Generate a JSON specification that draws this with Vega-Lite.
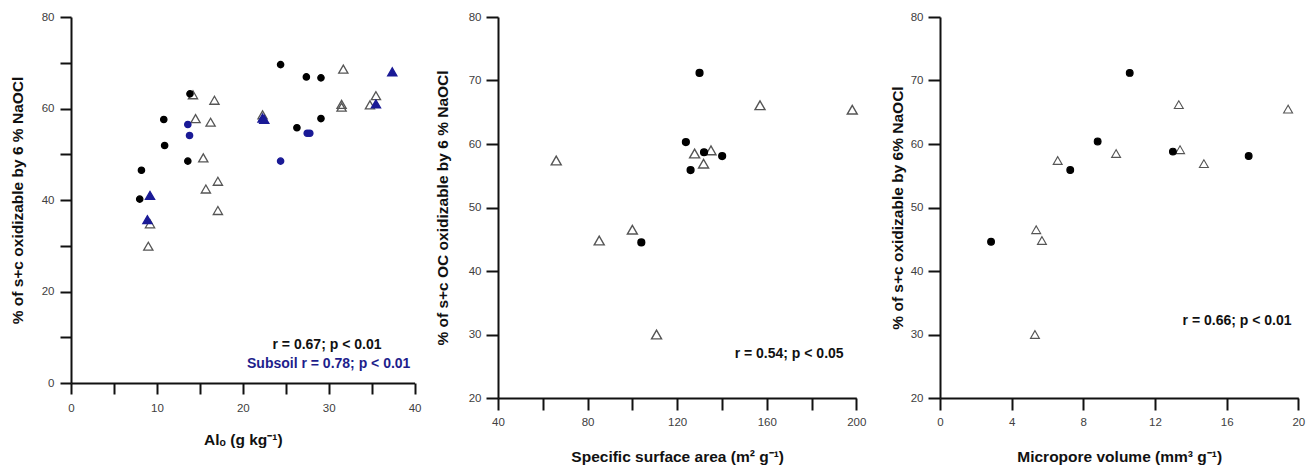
{
  "$schema": "https://vega.github.io/schema/vega-lite/v6.json",
  "background": "white",
  "padding": {"left": 10, "top": 11, "right": 4, "bottom": 0},
  "bounds": "flush",
  "spacing": 83,
  "resolve": {"scale": {"x": "independent", "y": "independent"}},
  "config": {
    "view": {"stroke": null},
    "font": "Liberation Sans",
    "axis": {
      "grid": false,
      "domainColor": "#111",
      "domainWidth": 2,
      "tickColor": "#111",
      "tickWidth": 2,
      "labelColor": "#404040",
      "labelFont": "Liberation Sans",
      "labelFontSize": 11.5,
      "labelFlush": false,
      "labelOverlap": false,
      "titleFont": "Liberation Sans",
      "titleFontSize": 15.5,
      "titleFontWeight": "bold",
      "titleColor": "#111"
    }
  },
  "hconcat": [
    {
      "width": 343.6,
      "height": 366,
      "layer": [
        {
          "data": {"values": [
            {"x": 14.2, "y": 63.0, "group": "B top"},
            {"x": 14.5, "y": 57.8, "group": "B top"},
            {"x": 16.7, "y": 61.8, "group": "B top"},
            {"x": 16.25, "y": 57.0, "group": "B top"},
            {"x": 15.4, "y": 49.2, "group": "B top"},
            {"x": 15.7, "y": 42.4, "group": "B top"},
            {"x": 17.1, "y": 44.1, "group": "B top"},
            {"x": 17.1, "y": 37.7, "group": "B top"},
            {"x": 9.2, "y": 34.8, "group": "B top"},
            {"x": 9.0, "y": 29.9, "group": "B top"},
            {"x": 22.3, "y": 58.6, "group": "B top"},
            {"x": 31.7, "y": 68.6, "group": "B top"},
            {"x": 31.5, "y": 60.3, "group": "B top"},
            {"x": 31.5, "y": 60.9, "group": "B top"},
            {"x": 34.8, "y": 60.8, "group": "B top"},
            {"x": 35.5, "y": 62.8, "group": "B top"},
            {"x": 8.2, "y": 46.5, "group": "A top"},
            {"x": 8.0, "y": 40.2, "group": "A top"},
            {"x": 10.8, "y": 57.6, "group": "A top"},
            {"x": 10.9, "y": 51.9, "group": "A top"},
            {"x": 13.85, "y": 63.2, "group": "A top"},
            {"x": 13.6, "y": 48.5, "group": "A top"},
            {"x": 24.4, "y": 69.6, "group": "A top"},
            {"x": 27.4, "y": 66.9, "group": "A top"},
            {"x": 29.1, "y": 66.7, "group": "A top"},
            {"x": 26.3, "y": 55.8, "group": "A top"},
            {"x": 29.1, "y": 57.8, "group": "A top"},
            {"x": 13.6, "y": 56.5, "group": "A sub"},
            {"x": 13.8, "y": 54.1, "group": "A sub"},
            {"x": 24.4, "y": 48.5, "group": "A sub"},
            {"x": 27.5, "y": 54.6, "group": "A sub"},
            {"x": 27.8, "y": 54.6, "group": "A sub"},
            {"x": 9.2, "y": 41.0, "group": "B sub"},
            {"x": 8.9, "y": 35.7, "group": "B sub"},
            {"x": 22.3, "y": 57.9, "group": "B sub"},
            {"x": 22.5, "y": 57.6, "group": "B sub"},
            {"x": 37.4, "y": 68.0, "group": "B sub"},
            {"x": 35.5, "y": 61.0, "group": "B sub"}
          ]},
          "mark": {"type": "point", "filled": true, "strokeWidth": 1.3, "opacity": 1},
          "encoding": {
            "x": {
              "field": "x", "type": "quantitative",
              "scale": {"domain": [0, 40], "nice": false, "zero": false},
              "axis": {
                "title": "Alₒ (g kg⁻¹)",
                "values": [0, 5, 10, 15, 20, 25, 30, 35, 40],
                "labelExpr": "datum.value % 10 === 0 ? datum.label : ''",
                "tickSize": 11,
                "encode": {"ticks": {"update": {"y2": {"signal": "datum.value % 10 === 0 ? 11 : 5"}}}},
                "labelPadding": 8,
                "titlePadding": 19
              }
            },
            "y": {
              "field": "y", "type": "quantitative",
              "scale": {"domain": [0, 80], "nice": false, "zero": false},
              "axis": {
                "title": "% of s+c oxidizable by 6 % NaOCl",
                "values": [0, 10, 20, 30, 40, 50, 60, 70, 80],
                "labelExpr": "datum.value % 20 === 0 ? datum.label : ''",
                "tickSize": 11,
                "encode": {"ticks": {"update": {"x2": {"signal": "datum.value % 20 === 0 ? -11 : -6"}}}},
                "labelPadding": 6,
                "titlePadding": 16
              }
            },
            "shape": {"field": "group", "type": "nominal", "legend": null,
              "scale": {"domain": ["A top", "A sub", "B top", "B sub"], "range": ["circle", "circle", "triangle-up", "triangle-up"]}},
            "fill": {"field": "group", "type": "nominal", "legend": null,
              "scale": {"domain": ["A top", "A sub", "B top", "B sub"], "range": ["#000000", "#1a1a96", "transparent", "#1a1a96"]}},
            "stroke": {"field": "group", "type": "nominal", "legend": null,
              "scale": {"domain": ["A top", "A sub", "B top", "B sub"], "range": ["#000000", "#1a1a96", "#555555", "#1a1a96"]}},
            "size": {"condition": {"test": "datum.group === 'B top' || datum.group === 'B sub'", "value": 85}, "value": 40}
          }
        },
        {
          "data": {"values": [{"label": "r = 0.67; p < 0.01"}]},
          "mark": {"type": "text", "fontWeight": "bold", "fontSize": 14, "color": "#111", "font": "Liberation Sans"},
          "encoding": {
            "x": {"datum": 29.8, "type": "quantitative"},
            "y": {"datum": 8.4, "type": "quantitative"},
            "text": {"field": "label"}
          }
        },
        {
          "data": {"values": [{"label": "Subsoil r = 0.78; p < 0.01"}]},
          "mark": {"type": "text", "fontWeight": "bold", "fontSize": 14, "color": "#1e1e8c", "font": "Liberation Sans"},
          "encoding": {
            "x": {"datum": 30.0, "type": "quantitative"},
            "y": {"datum": 4.2, "type": "quantitative"},
            "text": {"field": "label"}
          }
        }
      ]
    },
    {
      "width": 358.3,
      "height": 381,
      "layer": [
        {
          "data": {"values": [
            {"x": 66.0, "y": 57.4, "group": "B top"},
            {"x": 157.0, "y": 66.1, "group": "B top"},
            {"x": 198.2, "y": 65.4, "group": "B top"},
            {"x": 127.8, "y": 58.5, "group": "B top"},
            {"x": 131.8, "y": 56.9, "group": "B top"},
            {"x": 135.1, "y": 59.0, "group": "B top"},
            {"x": 85.2, "y": 44.8, "group": "B top"},
            {"x": 100.0, "y": 46.5, "group": "B top"},
            {"x": 110.8, "y": 30.0, "group": "B top"},
            {"x": 130.0, "y": 71.2, "group": "A top"},
            {"x": 123.9, "y": 60.3, "group": "A top"},
            {"x": 126.0, "y": 55.9, "group": "A top"},
            {"x": 132.0, "y": 58.7, "group": "A top"},
            {"x": 140.1, "y": 58.1, "group": "A top"},
            {"x": 104.0, "y": 44.5, "group": "A top"}
          ]},
          "mark": {"type": "point", "filled": true, "strokeWidth": 1.4, "opacity": 1},
          "encoding": {
            "x": {
              "field": "x", "type": "quantitative",
              "scale": {"domain": [40, 200], "nice": false, "zero": false},
              "axis": {
                "title": "Specific surface area (m² g⁻¹)",
                "values": [40, 60, 80, 100, 120, 140, 160, 180, 200],
                "labelExpr": "datum.value % 40 === 0 ? datum.label : ''",
                "tickSize": 12,
                "encode": {"ticks": {"update": {"y2": {"signal": "datum.value % 40 === 0 ? 12 : 6"}}}},
                "labelPadding": 6,
                "titlePadding": 22
              }
            },
            "y": {
              "field": "y", "type": "quantitative",
              "scale": {"domain": [20, 80], "nice": false, "zero": false},
              "axis": {
                "title": "% of s+c OC oxidizable by 6 % NaOCl",
                "values": [20, 25, 30, 35, 40, 45, 50, 55, 60, 65, 70, 75, 80],
                "labelExpr": "datum.value % 10 === 0 ? datum.label : ''",
                "tickSize": 12,
                "encode": {"ticks": {"update": {"x2": {"signal": "datum.value % 10 === 0 ? -12 : -6"}}}},
                "labelPadding": 5,
                "titlePadding": 18
              }
            },
            "shape": {"field": "group", "type": "nominal", "legend": null,
              "scale": {"domain": ["A top", "A sub", "B top", "B sub"], "range": ["circle", "circle", "triangle-up", "triangle-up"]}},
            "fill": {"field": "group", "type": "nominal", "legend": null,
              "scale": {"domain": ["A top", "A sub", "B top", "B sub"], "range": ["#000000", "#1a1a96", "transparent", "#1a1a96"]}},
            "stroke": {"field": "group", "type": "nominal", "legend": null,
              "scale": {"domain": ["A top", "A sub", "B top", "B sub"], "range": ["#000000", "#1a1a96", "#555555", "#1a1a96"]}},
            "size": {"condition": {"test": "datum.group === 'B top' || datum.group === 'B sub'", "value": 100}, "value": 46}
          }
        },
        {
          "data": {"values": [{"label": "r = 0.54; p < 0.05"}]},
          "mark": {"type": "text", "fontWeight": "bold", "fontSize": 14, "color": "#111", "font": "Liberation Sans"},
          "encoding": {
            "x": {"datum": 170, "type": "quantitative"},
            "y": {"datum": 27.0, "type": "quantitative"},
            "text": {"field": "label"}
          }
        }
      ]
    },
    {
      "width": 358.3,
      "height": 381,
      "layer": [
        {
          "data": {"values": [
            {"x": 6.57, "y": 57.4, "group": "B top"},
            {"x": 9.83, "y": 58.5, "group": "B top"},
            {"x": 13.33, "y": 66.2, "group": "B top"},
            {"x": 13.4, "y": 59.1, "group": "B top"},
            {"x": 14.73, "y": 56.9, "group": "B top"},
            {"x": 19.43, "y": 65.5, "group": "B top"},
            {"x": 5.37, "y": 46.5, "group": "B top"},
            {"x": 5.69, "y": 44.8, "group": "B top"},
            {"x": 5.3, "y": 30.0, "group": "B top"},
            {"x": 10.59, "y": 71.2, "group": "A top"},
            {"x": 8.8, "y": 60.4, "group": "A top"},
            {"x": 7.27, "y": 55.9, "group": "A top"},
            {"x": 13.0, "y": 58.8, "group": "A top"},
            {"x": 17.23, "y": 58.1, "group": "A top"},
            {"x": 2.85, "y": 44.6, "group": "A top"}
          ]},
          "mark": {"type": "point", "filled": true, "strokeWidth": 1.1, "opacity": 1},
          "encoding": {
            "x": {
              "field": "x", "type": "quantitative",
              "scale": {"domain": [0, 20], "nice": false, "zero": false},
              "axis": {
                "title": "Micropore volume (mm³ g⁻¹)",
                "values": [0, 2, 4, 6, 8, 10, 12, 14, 16, 18, 20],
                "labelExpr": "datum.value % 4 === 0 ? datum.label : ''",
                "tickSize": 12,
                "encode": {"ticks": {"update": {"y2": {"signal": "datum.value % 4 === 0 ? 12 : 6"}}}},
                "labelPadding": 6,
                "titlePadding": 22
              }
            },
            "y": {
              "field": "y", "type": "quantitative",
              "scale": {"domain": [20, 80], "nice": false, "zero": false},
              "axis": {
                "title": "% of s+c oxidizable by 6% NaOCl",
                "values": [20, 25, 30, 35, 40, 45, 50, 55, 60, 65, 70, 75, 80],
                "labelExpr": "datum.value % 10 === 0 ? datum.label : ''",
                "tickSize": 12,
                "encode": {"ticks": {"update": {"x2": {"signal": "datum.value % 10 === 0 ? -12 : -6"}}}},
                "labelPadding": 5,
                "titlePadding": 5
              }
            },
            "shape": {"field": "group", "type": "nominal", "legend": null,
              "scale": {"domain": ["A top", "A sub", "B top", "B sub"], "range": ["circle", "circle", "triangle-up", "triangle-up"]}},
            "fill": {"field": "group", "type": "nominal", "legend": null,
              "scale": {"domain": ["A top", "A sub", "B top", "B sub"], "range": ["#000000", "#1a1a96", "transparent", "#1a1a96"]}},
            "stroke": {"field": "group", "type": "nominal", "legend": null,
              "scale": {"domain": ["A top", "A sub", "B top", "B sub"], "range": ["#000000", "#1a1a96", "#666666", "#1a1a96"]}},
            "size": {"condition": {"test": "datum.group === 'B top' || datum.group === 'B sub'", "value": 80}, "value": 46}
          }
        },
        {
          "data": {"values": [{"label": "r = 0.66; p < 0.01"}]},
          "mark": {"type": "text", "fontWeight": "bold", "fontSize": 14, "color": "#111", "font": "Liberation Sans"},
          "encoding": {
            "x": {"datum": 16.58, "type": "quantitative"},
            "y": {"datum": 32.2, "type": "quantitative"},
            "text": {"field": "label"}
          }
        }
      ]
    }
  ]
}
